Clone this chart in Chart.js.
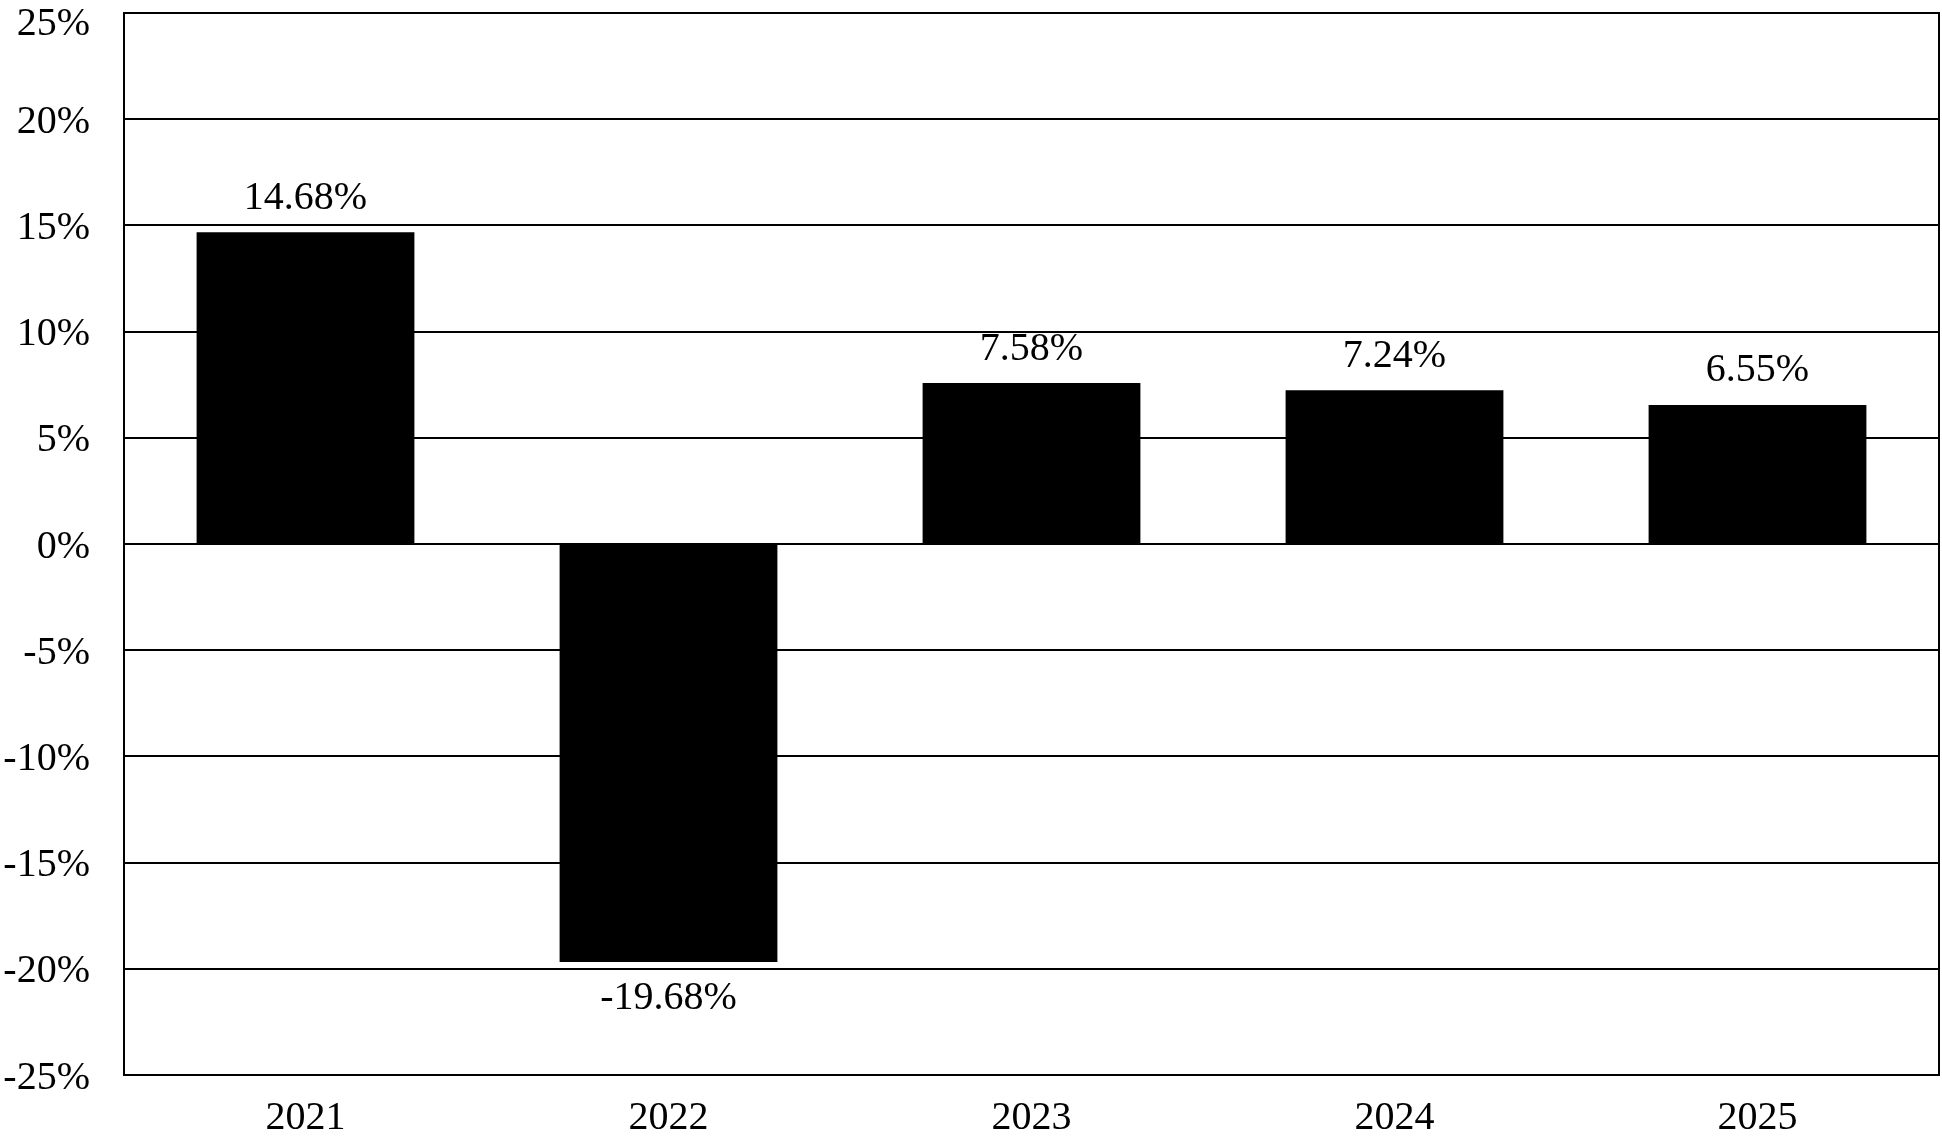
<!DOCTYPE html>
<html>
<head>
<meta charset="utf-8">
<script src="https://cdn.jsdelivr.net/npm/chart.js@4/dist/chart.umd.min.js"></script>
<style>
  html, body { margin: 0; padding: 0; background: #fff; }
  #wrap { width: 1942px; height: 1143px; }
</style>
</head>
<body>
<div id="wrap"><canvas id="returnsChart"></canvas></div>
<script>
const YEARS = ["2021", "2022", "2023", "2024", "2025"];
const RETURNS = [14.68, -19.68, 7.58, 7.24, 6.55];
const Y_MIN = -25;
const Y_MAX = 25;
const Y_STEP = 5;

const FONT = "'Liberation Serif', 'Times New Roman', serif";

Chart.defaults.font.family = FONT;
Chart.defaults.color = "#000";

// value labels above / below each bar
const valueLabels = {
  id: "valueLabels",
  afterDatasetsDraw(chart) {
    const ctx = chart.ctx;
    const meta = chart.getDatasetMeta(0);
    ctx.save();
    ctx.font = "40px " + FONT;
    ctx.fillStyle = "#000";
    ctx.textAlign = "center";
    ctx.textBaseline = "middle";
    meta.data.forEach((bar, i) => {
      const v = RETURNS[i];
      const y = v >= 0 ? bar.y - 34 : bar.y + 36;
      ctx.fillText(v.toFixed(2) + "%", bar.x, y);
    });
    ctx.restore();
  },
};

// right edge of the frame
const frameRight = {
  id: "frameRight",
  afterDraw(chart) {
    const a = chart.chartArea;
    const ctx = chart.ctx;
    ctx.save();
    ctx.strokeStyle = "#000";
    ctx.lineWidth = 2;
    ctx.beginPath();
    ctx.moveTo(a.right, a.top - 1);
    ctx.lineTo(a.right, a.bottom + 1);
    ctx.stroke();
    ctx.restore();
  },
};

new Chart(document.getElementById("returnsChart"), {
  type: "bar",
  data: {
    labels: YEARS,
    datasets: [
      {
        data: RETURNS,
        backgroundColor: "#000",
        borderWidth: 0,
        barPercentage: 0.6,
        categoryPercentage: 1,
      },
    ],
  },
  options: {
    responsive: true,
    maintainAspectRatio: false,
    animation: false,
    layout: { padding: { top: 13, right: 3, bottom: 0, left: 0 } },
    plugins: { legend: { display: false }, tooltip: { enabled: false } },
    scales: {
      x: {
        grid: { display: false, drawTicks: false },
        border: { color: "#000", width: 2 },
        ticks: { font: { size: 40 }, color: "#000", padding: 19 },
        afterFit(s) {
          s.height = 68;
          s.paddingLeft = 0;
          s.paddingRight = 0;
        },
      },
      y: {
        min: Y_MIN,
        max: Y_MAX,
        grid: { color: "#000", lineWidth: 2, drawTicks: false },
        border: { color: "#000", width: 2 },
        ticks: {
          stepSize: Y_STEP,
          color: "#000",
          padding: 34,
          labelOffset: 3,
          // top label sits a little lower so it is not cut off
          font: (c) =>
            c.tick && c.tick.value === Y_MAX
              ? { size: 40, lineHeight: 0.4 }
              : { size: 40 },
          callback: (v) => (v === Y_MAX ? ["", v + "%"] : v + "%"),
        },
        afterFit(s) {
          s.width = 124;
          s.paddingTop = 0;
          s.paddingBottom = 0;
        },
      },
    },
  },
  plugins: [valueLabels, frameRight],
});
</script>
</body>
</html>
